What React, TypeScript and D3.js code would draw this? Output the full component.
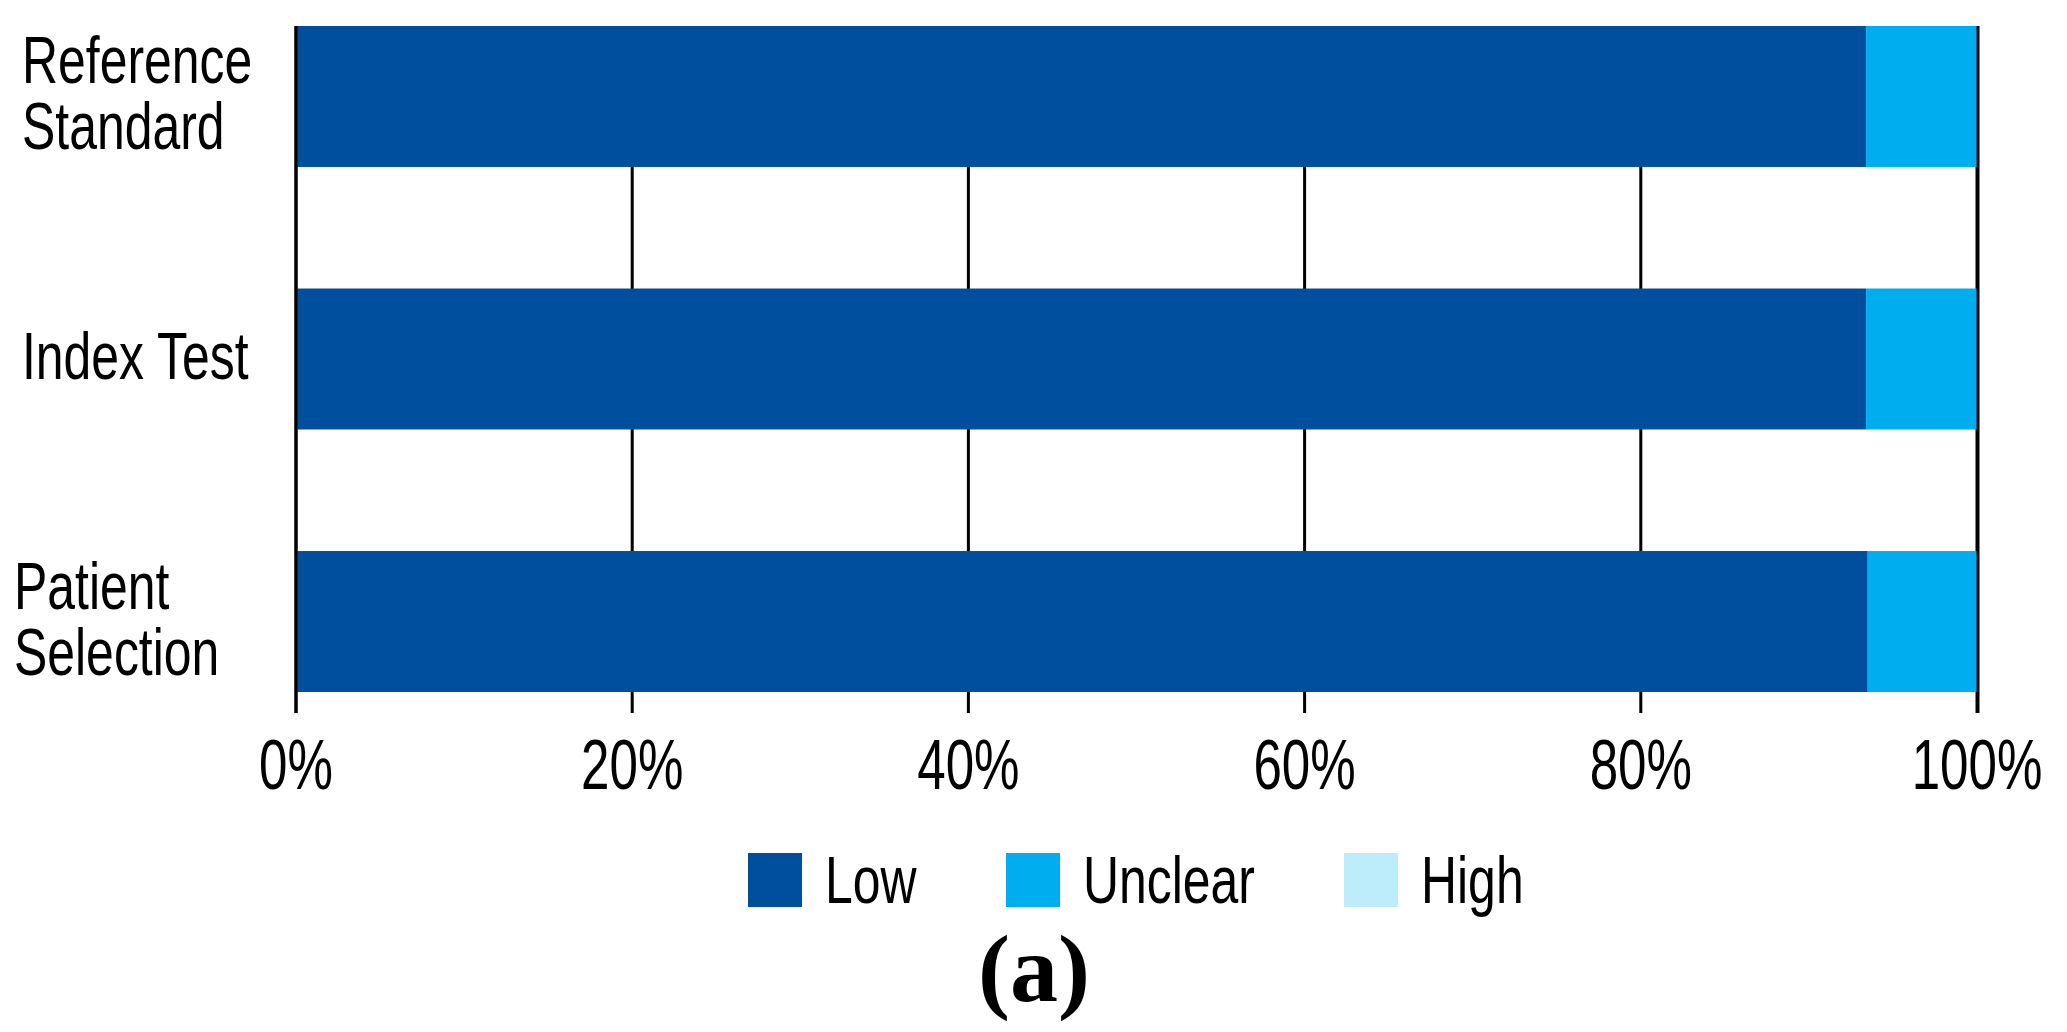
import React, { useEffect } from "react";
import * as d3 from "d3";

const categories = ["Reference Standard", "Index Test", "Patient Selection"];
const categoryLines = [["Reference", "Standard"], ["Index Test"], ["Patient", "Selection"]];
const lowValues = [93.4, 93.4, 93.5];
const unclearValues = [6.6, 6.6, 6.5];
const highValues = [0, 0, 0];
const tickValues = [0, 20, 40, 60, 80, 100];
const seriesNames = ["Low", "Unclear", "High"];
const seriesColors = ["#004F9F", "#00AEEF", "#BDEDFA"];

const W = 2067;
const H = 1032;
const FONT = "'Liberation Sans', Arial, sans-serif";

export default function App() {
  useEffect(() => {
    document.body.style.margin = "0";
  }, []);

  const x = d3.scaleLinear().domain([0, 100]).range([296, 1977]);
  const y = d3.scaleBand().domain(categories).range([26, 692]).paddingInner(0.463).paddingOuter(0);
  const rows = categories.map((c, i) => ({ cat: c, vals: [lowValues[i], unclearValues[i], highValues[i]] }));
  const stack = d3.stack<any>().keys([0, 1, 2] as any).value((d: any, k: any) => d.vals[k]);
  const series = stack(rows as any);

  const lineTop = 26;
  const lineBottom = 713;
  const sxLabel = 0.745;
  const sxTick = 0.72;

  const legendX = [748, 1006, 1344];

  return (
    <svg width={W} height={H} style={{ display: "block", background: "#fff" }}>
      {tickValues.map((t) => (
        <line key={t} x1={x(t)} x2={x(t)} y1={lineTop} y2={lineBottom} stroke="#000" strokeWidth={3} />
      ))}
      {series.map((s, si) =>
        s.map((d: any, i: number) => (
          <rect
            key={si + "-" + i}
            x={x(d[0])}
            y={y(categories[i])}
            width={Math.max(0, x(d[1]) - x(d[0]))}
            height={y.bandwidth()}
            fill={seriesColors[si]}
          />
        ))
      )}
      <line x1={x(0)} x2={x(0)} y1={lineTop} y2={lineBottom} stroke="#000" strokeWidth={3} />
      <line x1={x(100) + 1} x2={x(100) + 1} y1={lineTop} y2={lineBottom} stroke="#000" strokeWidth={3} />
      {tickValues.map((t) => (
        <text
          key={"l" + t}
          transform={`translate(${x(t)},789) scale(${sxTick},1)`}
          textAnchor="middle"
          fontFamily={FONT}
          fontSize={71}
          fill="#000"
        >
          {t + "%"}
        </text>
      ))}
      {categories.map((c, i) => {
        const lines = categoryLines[i];
        const cy = (y(c) as number) + y.bandwidth() / 2;
        const lh = 66;
        const firstBaseline = cy + 24 - ((lines.length - 1) * lh) / 2 - 4;
        return (
          <text
            key={c}
            transform={`translate(${i === 2 ? 14 : 22},${firstBaseline}) scale(${sxLabel},1)`}
            fontFamily={FONT}
            fontSize={67}
            fill="#000"
          >
            {lines.map((ln, j) => (
              <tspan key={j} x={0} dy={j === 0 ? 0 : lh}>
                {ln}
              </tspan>
            ))}
          </text>
        );
      })}
      {seriesNames.map((n, i) => (
        <g key={n}>
          <rect x={legendX[i]} y={853} width={54} height={54} fill={seriesColors[i]} />
          <text
            transform={`translate(${legendX[i] + 77},903) scale(${sxLabel},1)`}
            fontFamily={FONT}
            fontSize={67}
            fill="#000"
          >
            {n}
          </text>
        </g>
      ))}
      <text
        x={1034}
        y={1001}
        textAnchor="middle"
        fontFamily="'Liberation Serif', 'Times New Roman', serif"
        fontWeight="bold"
        fontSize={96}
        fill="#000"
      >
        (a)
      </text>
    </svg>
  );
}
